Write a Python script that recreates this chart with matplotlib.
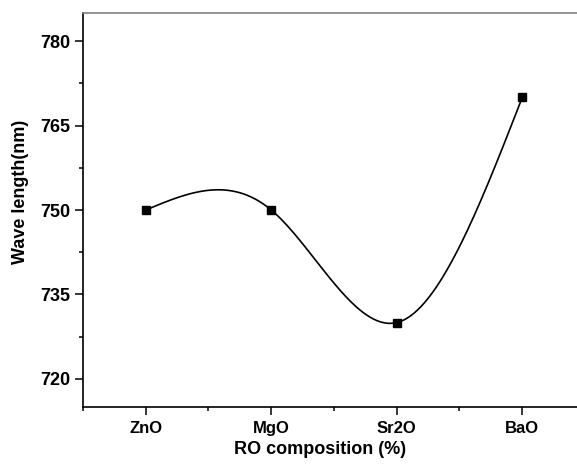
import numpy as np
import matplotlib
matplotlib.use("Agg")
import matplotlib.pyplot as plt
from matplotlib.ticker import MultipleLocator

categories = ["ZnO", "MgO", "Sr2O", "BaO"]
wavelength = [750, 750, 730, 770]
y_ticks = [720, 735, 750, 765, 780]

plt.rcParams['font.family'] = ['Liberation Sans', 'DejaVu Sans']
plt.rcParams['font.weight'] = 'bold'

x = np.arange(1, len(categories) + 1, dtype=float)
y = np.array(wavelength, dtype=float)

# natural cubic spline through the points
n = len(x)
h = np.diff(x)
A = np.zeros((n, n)); b = np.zeros(n)
A[0, 0] = 1; A[-1, -1] = 1
for i in range(1, n - 1):
    A[i, i - 1] = h[i - 1]
    A[i, i] = 2 * (h[i - 1] + h[i])
    A[i, i + 1] = h[i]
    b[i] = 6 * ((y[i + 1] - y[i]) / h[i] - (y[i] - y[i - 1]) / h[i - 1])
M = np.linalg.solve(A, b)
xs, ys = [], []
for i in range(n - 1):
    t = np.linspace(0, 1, 100)
    s = ((1 - t) * y[i] + t * y[i + 1]
         + ((1 - t) ** 3 - (1 - t)) * M[i] * h[i] ** 2 / 6
         + (t ** 3 - t) * M[i + 1] * h[i] ** 2 / 6)
    xs.append(x[i] + t * h[i]); ys.append(s)
xs = np.concatenate(xs); ys = np.concatenate(ys)

fig = plt.figure(figsize=(5.77, 4.65), dpi=100)
ax = fig.add_axes([83 / 577, 1 - 407 / 465, (577 - 83) / 577, (407 - 13) / 465])
ax.plot(xs, ys, color='black', lw=1.2)
ax.plot(x, y, 's', color='black', markersize=5.5)

ax.set_xlim(0.5, 0.5 + 494 / 125.5)
ax.set_ylim(715, 785)
ax.set_xticks(x)
ax.set_xticklabels(categories)
ax.xaxis.set_minor_locator(MultipleLocator(0.5))
ax.set_yticks(y_ticks)
ax.yaxis.set_minor_locator(MultipleLocator(7.5))

ax.spines['right'].set_visible(False)
ax.spines['top'].set_color('#808080')
ax.spines['top'].set_linewidth(1.2)
ax.spines['left'].set_linewidth(1.2)
ax.spines['bottom'].set_linewidth(1.2)
ax.tick_params(which='major', direction='out', length=5.8, width=1.1)
ax.tick_params(which='minor', direction='out', length=3.2, width=1.1)
ax.tick_params(axis='y', which='major', labelsize=13, pad=3.5)
ax.tick_params(axis='x', which='major', labelsize=12, pad=4.5)
ax.tick_params(top=False, right=False, which='both')

ax.set_xlabel('RO composition (%)', fontsize=13, fontweight='bold')
ax.set_ylabel('Wave length(nm)', fontsize=13, fontweight='bold')
ax.xaxis.set_label_coords((320 - 83) / 494, (407 - 441) / 394)
ax.yaxis.set_label_coords((29 - 83) / 494, (407 - 192) / 394)

fig.savefig('out.png', dpi=100)
